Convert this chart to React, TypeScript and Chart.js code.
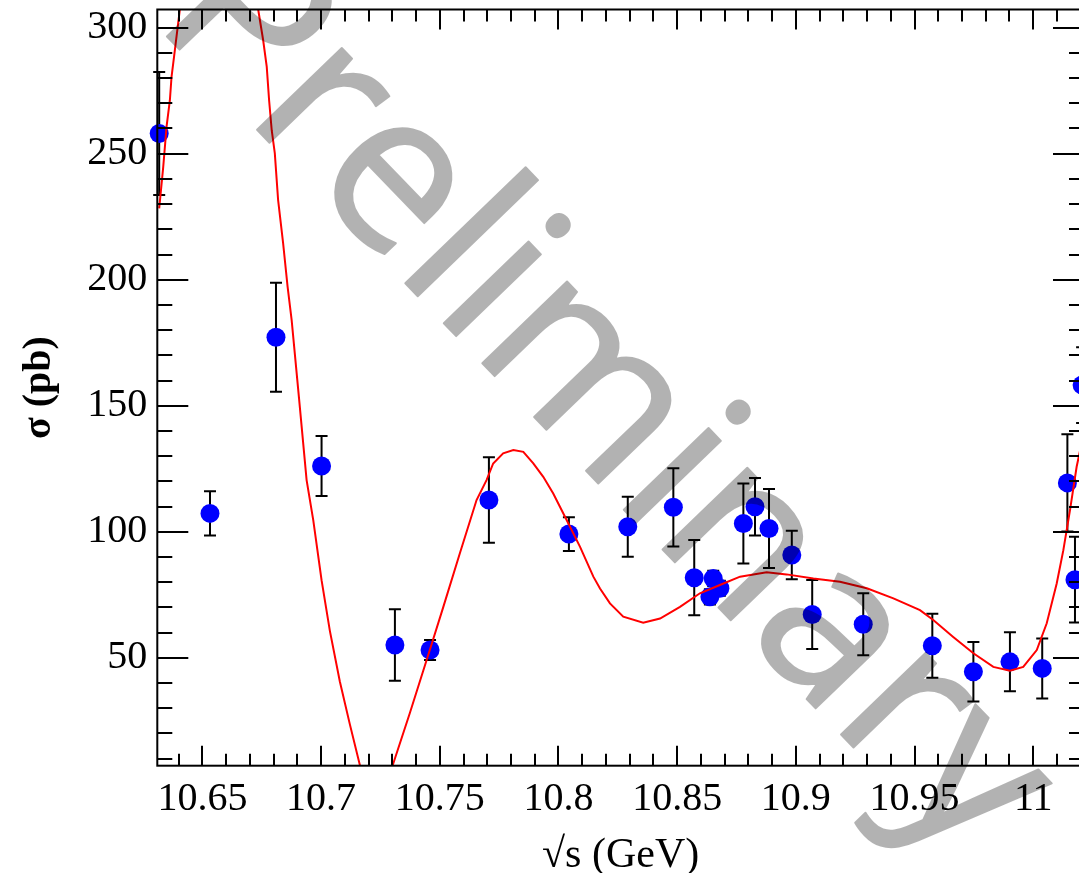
import { useEffect, useRef } from "react";
import { Chart, registerables } from "chart.js";

Chart.register(...registerables);

// Measured points: sqrt(s) in GeV, cross section in pb, symmetric error in pb
const energies = [
  10.6318, 10.6532, 10.681, 10.7002, 10.7311, 10.7459, 10.7707, 10.8044, 10.8292,
  10.8484, 10.8572, 10.8638, 10.8652, 10.868, 10.8779, 10.8828, 10.8887, 10.8983,
  10.9069, 10.9284, 10.9575, 10.9748, 10.9902, 11.0038, 11.0144, 11.0176, 11.0206,
];
const crossSections = [
  258.0, 107.3, 177.2, 126.1, 55.1, 53.1, 112.6, 99.1, 102.0,
  109.7, 81.8, 74.2, 81.5, 77.6, 103.3, 109.9, 101.3, 90.8,
  67.2, 63.3, 54.8, 44.5, 48.4, 45.8, 119.4, 81.0, 158.2,
];
const errors = [
  24.4, 8.8, 21.6, 11.9, 14.2, 4.0, 17.0, 6.7, 11.9,
  15.5, 14.9, 3, 3, 3, 15.9, 11.4, 15.7, 9.6,
  13.7, 12.3, 12.7, 11.8, 11.7, 11.9, 19.3, 17.0, 15,
];

// Fit curve (red)
const fitEnergies = [
  10.6318, 10.6335, 10.6349, 10.6363, 10.637, 10.6384, 10.6396, 10.6405, 10.6426, 10.657,
  10.6713, 10.6735, 10.6756, 10.6771, 10.6781, 10.6792, 10.6805, 10.6819, 10.684, 10.6859,
  10.6876, 10.6907, 10.6939, 10.6967, 10.7002, 10.7037, 10.7079, 10.7121, 10.7164, 10.7231,
  10.7301, 10.7374, 10.7458, 10.7515, 10.7585, 10.7655, 10.7697, 10.7725, 10.7767, 10.781,
  10.7852, 10.7894, 10.7936, 10.7978, 10.8035, 10.8091, 10.8147, 10.8175, 10.8217, 10.8273,
  10.8357, 10.8428, 10.8512, 10.8596, 10.868, 10.8765, 10.8877, 10.8961, 10.9074, 10.9186,
  10.9299, 10.9411, 10.9523, 10.9579, 10.9663, 10.9748, 10.9832, 10.9902, 10.9958, 11.0015,
  11.0057, 11.0099, 11.0127, 11.0155, 11.0183, 11.0215,
];
const fitValues = [
  228.3, 244.8, 260.7, 271.2, 280.5, 291.1, 300.3, 307.2, 323, 345,
  319, 307.2, 295.0, 284.5, 271.2, 259.3, 250.2, 231.6, 214.5, 197.2,
  184.0, 153.0, 120.5, 104.6, 80.8, 60.7, 40.6, 23.7, 7.2, -4,
  7.2, 28.1, 53.1, 70.2, 91.6, 112.6, 120.5, 127.1, 131.1, 132.4,
  131.7, 127.1, 121.8, 115.2, 104.6, 94.0, 82.2, 77.5, 71.6, 66.3,
  63.9, 65.6, 70.2, 75.6, 78.9, 82.2, 83.9, 83.1, 81.5, 80.2,
  77.6, 73.6, 68.9, 65.0, 58.3, 51.8, 46.4, 44.9, 46.4, 53.1,
  63.7, 79.5, 92.7, 108.6, 125.8, 140,
];

const xTickValues = [10.65, 10.7, 10.75, 10.8, 10.85, 10.9, 10.95, 11];
const yTickValues = [50, 100, 150, 200, 250, 300];

const X_MIN = 10.631;
const X_MAX = 11.0214;
const Y_MIN = 7.2;
const Y_MAX = 307.2;
const X_MINOR_STEP = 0.01;
const Y_MINOR_STEP = 10;

const W = 1100;
const H = 890;

const errorBarPlugin = {
  id: "errorBars",
  beforeDatasetsDraw(chart: any) {
    const { ctx, scales } = chart;
    const x = scales.x;
    const y = scales.y;
    ctx.save();
    ctx.strokeStyle = "#000";
    ctx.lineWidth = 2;
    for (let i = 0; i < energies.length; i++) {
      const px = x.getPixelForValue(energies[i]);
      const top = y.getPixelForValue(crossSections[i] + errors[i]);
      const bot = y.getPixelForValue(crossSections[i] - errors[i]);
      ctx.beginPath();
      ctx.moveTo(px, top);
      ctx.lineTo(px, bot);
      ctx.moveTo(px - 6, top);
      ctx.lineTo(px + 6, top);
      ctx.moveTo(px - 6, bot);
      ctx.lineTo(px + 6, bot);
      ctx.stroke();
    }
    ctx.restore();
  },
};

const framePlugin = {
  id: "frameTicks",
  afterDatasetsDraw(chart: any) {
    const { ctx, chartArea: a, scales } = chart;
    const x = scales.x;
    const y = scales.y;
    ctx.save();
    ctx.strokeStyle = "#000";
    ctx.lineWidth = 2;
    ctx.beginPath();
    const kx0 = Math.ceil(X_MIN / X_MINOR_STEP - 1e-6);
    const kx1 = Math.floor(X_MAX / X_MINOR_STEP + 1e-6);
    for (let k = kx0; k <= kx1; k++) {
      const v = k * X_MINOR_STEP;
      const major = k % 5 === 0;
      const len = major ? 20 : 12;
      const px = Math.round(x.getPixelForValue(v));
      ctx.moveTo(px, a.bottom);
      ctx.lineTo(px, a.bottom - len);
      ctx.moveTo(px, a.top);
      ctx.lineTo(px, a.top + len);
    }
    const ky0 = Math.ceil(Y_MIN / Y_MINOR_STEP);
    const ky1 = Math.floor(Y_MAX / Y_MINOR_STEP);
    for (let k = ky0; k <= ky1; k++) {
      const v = k * Y_MINOR_STEP;
      const major = k % 5 === 0;
      const len = major ? 31 : 15;
      const py = Math.round(y.getPixelForValue(v));
      ctx.moveTo(a.left, py);
      ctx.lineTo(a.left + len, py);
      ctx.moveTo(a.right, py);
      ctx.lineTo(a.right - len, py);
    }
    ctx.stroke();
    ctx.strokeRect(a.left, a.top, a.right - a.left, a.bottom - a.top);
    ctx.restore();
  },
  afterDraw(chart: any) {
    const { ctx } = chart;
    const off = document.createElement("canvas");
    off.width = W;
    off.height = H;
    const o = off.getContext("2d");
    if (!o) return;
    o.translate(152, 21);
    o.rotate((46 * Math.PI) / 180);
    o.font = "220px 'Open Sans'";
    o.fillStyle = "#000";
    o.strokeStyle = "#000";
    o.lineWidth = 2;
    o.lineJoin = "round";
    o.fillText("Preliminary", 0, 0);
    o.strokeText("Preliminary", 0, 0);
    ctx.save();
    ctx.globalAlpha = 0.3;
    ctx.drawImage(off, 0, 0);
    ctx.restore();
  },
};

export default function App() {
  const ref = useRef<HTMLCanvasElement | null>(null);

  useEffect(() => {
    const canvas = ref.current;
    if (!canvas) return;
    const fmt = (v: any) => String(Number(Number(v).toFixed(2)));
    const chart = new Chart(canvas, {
      type: "scatter",
      data: {
        datasets: [
          {
            label: "fit",
            data: fitEnergies.map((e, i) => ({ x: e, y: fitValues[i] })),
            showLine: true,
            borderColor: "#ff0000",
            borderWidth: 2,
            pointRadius: 0,
            tension: 0,
          },
          {
            label: "data",
            data: energies.map((e, i) => ({ x: e, y: crossSections[i] })),
            backgroundColor: "#0000ff",
            borderColor: "#0000ff",
            borderWidth: 0,
            pointRadius: 9.5,
            pointStyle: "circle",
            clip: false,
          } as any,
        ],
      },
      options: {
        responsive: false,
        animation: false,
        devicePixelRatio: 1,
        layout: { padding: { top: 9.5, right: W - 1084, left: 0, bottom: 0 } },
        plugins: { legend: { display: false }, tooltip: { enabled: false } },
        scales: {
          x: {
            type: "linear",
            min: X_MIN,
            max: X_MAX,
            afterBuildTicks: (s: any) => {
              s.ticks = xTickValues.map((v) => ({ value: v }));
            },
            afterFit: (s: any) => {
              s.height = H - 765.7;
              s.paddingLeft = 0;
              s.paddingRight = 0;
            },
            grid: { display: false, drawTicks: false },
            border: { display: false },
            ticks: {
              autoSkip: false,
              maxRotation: 0,
              padding: 10,
              color: "#000",
              font: { family: "'Liberation Serif'", size: 40 },
              callback: (v: any) => fmt(v),
            },
            title: {
              display: true,
              text: "√s (GeV)",
              color: "#000",
              font: { family: "'Liberation Serif'", size: 42 },
              padding: { top: 0, bottom: 9 },
            },
          },
          y: {
            type: "linear",
            min: Y_MIN,
            max: Y_MAX,
            afterBuildTicks: (s: any) => {
              s.ticks = yTickValues.map((v) => ({ value: v }));
            },
            afterFit: (s: any) => {
              s.width = 157.3;
              s.paddingTop = 0;
              s.paddingBottom = 0;
            },
            grid: { display: false, drawTicks: false },
            border: { display: false },
            ticks: {
              autoSkip: false,
              padding: 10,
              color: "#000",
              font: { family: "'Liberation Serif'", size: 40 },
              callback: (v: any) => fmt(v),
            },
            title: {
              display: true,
              text: "σ (pb)",
              color: "#000",
              font: { family: "'Liberation Serif'", size: 40, weight: "bold" },
              padding: { top: 16, bottom: 0 },
            },
          },
        },
      },
      plugins: [errorBarPlugin, framePlugin],
    });
    return () => chart.destroy();
  }, []);

  return (
    <div
      style={{
        position: "absolute",
        left: 0,
        top: 0,
        width: 1079,
        height: 873,
        overflow: "hidden",
        background: "#fff",
      }}
    >
      <canvas ref={ref} width={W} height={H} style={{ width: W, height: H, display: "block" }} />
    </div>
  );
}
